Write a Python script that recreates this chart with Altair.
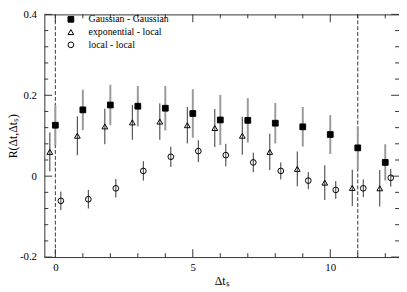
import altair as alt
import pandas as pd

# ---- data ----
dt = list(range(13))
series_names = ["Gaussian - Gaussian", "exponential - local", "local - local"]
x_offsets = [0.0, -0.2, 0.2]

gg_y = [0.126, 0.164, 0.176, 0.173, 0.168, 0.155, 0.139, 0.138, 0.131, 0.122, 0.103, 0.070, 0.034]
gg_err = [0.050, 0.050, 0.050, 0.050, 0.055, 0.060, 0.062, 0.055, 0.050, 0.049, 0.048, 0.053, 0.045]

el_y = [0.060, 0.100, 0.123, 0.133, 0.135, 0.126, 0.119, 0.100, 0.060, 0.018, -0.016, -0.029, -0.030]
el_err = [0.048, 0.048, 0.044, 0.043, 0.045, 0.045, 0.047, 0.047, 0.045, 0.043, 0.043, 0.045, 0.045]

ll_y = [-0.061, -0.057, -0.030, 0.013, 0.048, 0.062, 0.052, 0.034, 0.013, -0.011, -0.034, -0.030, -0.004]
ll_err = [0.023, 0.023, 0.023, 0.024, 0.025, 0.027, 0.028, 0.024, 0.021, 0.021, 0.022, 0.022, 0.022]

vlines = [0, 11]

x_major = [0, 5, 10]
x_minor = [1, 2, 3, 4, 6, 7, 8, 9, 11, 12]
y_major = [-0.2, 0.0, 0.2, 0.4]
y_minor = [-0.16, -0.12, -0.08, -0.04, 0.04, 0.08, 0.12, 0.16, 0.24, 0.28, 0.32, 0.36]

rows = []
for name, off, ys_, es_ in zip(series_names, x_offsets, [gg_y, el_y, ll_y], [gg_err, el_err, ll_err]):
    for x, y, e in zip(dt, ys_, es_):
        rows.append(dict(series=name, x=x + off, y=y, lo=y - e, hi=y + e))
df = pd.DataFrame(rows)

W, H = 361, 247
font = "Liberation Serif"
xs = alt.Scale(domain=[-0.4, 12.5], nice=False, zero=False)
ys = alt.Scale(domain=[-0.2, 0.4], nice=False, zero=False)

x_axis = alt.Axis(values=x_major, format="d", title="Δtₛ", ticks=False, domain=False, grid=False,
                  labelFont=font, labelFontSize=11, labelPadding=5, labelColor="black",
                  titleFont=font, titleFontSize=12, titleFontWeight="normal", titleColor="black",
                  titlePadding=3)
y_axis = alt.Axis(values=y_major, title="R(Δt,Δtₛ)", ticks=False, domain=False, grid=False,
                  labelExpr="datum.value == 0 ? '0' : (datum.value < 0 ? '-' + format(-datum.value, '.1f') : format(datum.value, '.1f'))",
                  labelFont=font, labelFontSize=11, labelPadding=8, labelColor="black",
                  titleFont=font, titleFontSize=12, titleFontWeight="normal", titleColor="black",
                  titlePadding=0)

base = alt.Chart(df)

bars_g = base.transform_filter(alt.datum.series == series_names[0]).mark_rule(
    color="#9a9a9a", strokeWidth=2).encode(
    x=alt.X("x:Q", scale=xs, axis=x_axis),
    y=alt.Y("lo:Q", scale=ys, axis=y_axis),
    y2="hi:Q",
)
bars_o = base.transform_filter(alt.datum.series != series_names[0]).mark_rule(
    color="#333333", strokeWidth=1).encode(
    x=alt.X("x:Q", scale=xs),
    y=alt.Y("lo:Q", scale=ys),
    y2="hi:Q",
)

leg = alt.Legend(orient="none", legendX=22, legendY=0, title=None, labelFont=font, labelFontSize=10,
                 labelColor="black", symbolStrokeWidth=1, symbolSize=34,
                 rowPadding=3, labelOffset=13, padding=0)

points = base.mark_point(strokeWidth=1, opacity=1, size=34).encode(
    x=alt.X("x:Q", scale=xs),
    y=alt.Y("y:Q", scale=ys),
    shape=alt.Shape("series:N", scale=alt.Scale(domain=series_names, range=["square", "triangle-up", "circle"]), legend=leg),
    fill=alt.Fill("series:N", scale=alt.Scale(domain=series_names, range=["black", "transparent", "transparent"]), legend=leg),
    stroke=alt.Stroke("series:N", scale=alt.Scale(domain=series_names, range=["black", "black", "black"]), legend=leg),
)

vl = alt.Chart(pd.DataFrame({"v": vlines})).mark_rule(color="#333333", strokeWidth=1, strokeDash=[4, 2]).encode(
    x=alt.X("v:Q", scale=xs), y=alt.value(0), y2=alt.value(H))

xmaj = pd.DataFrame({"t": x_major})
xmin = pd.DataFrame({"t": x_minor})
ymaj = pd.DataFrame({"t": y_major})
ymin = pd.DataFrame({"t": y_minor})
tick_color = "#333333"
MAJ, MIN = 8, 4

def xticks(d, L):
    b = alt.Chart(d).mark_rule(color=tick_color, strokeWidth=1)
    return [b.encode(x=alt.X("t:Q", scale=xs), y=alt.value(H), y2=alt.value(H - L)),
            b.encode(x=alt.X("t:Q", scale=xs), y=alt.value(0), y2=alt.value(L))]

def yticks(d, L):
    b = alt.Chart(d).mark_rule(color=tick_color, strokeWidth=1)
    return [b.encode(y=alt.Y("t:Q", scale=ys), x=alt.value(0), x2=alt.value(L)),
            b.encode(y=alt.Y("t:Q", scale=ys), x=alt.value(W - L), x2=alt.value(W))]

layers = [vl, bars_g, bars_o, points] + xticks(xmaj, MAJ) + xticks(xmin, MIN) + yticks(ymaj, MAJ) + yticks(ymin, MIN)

chart = alt.layer(*layers).properties(
    width=W, height=H, autosize="none",
    padding={"left": 37, "top": 4, "right": 0, "bottom": 30},
).configure_view(stroke="#333333", strokeWidth=1)

chart.save("out.html", embed_options={"renderer": "svg", "actions": False})
